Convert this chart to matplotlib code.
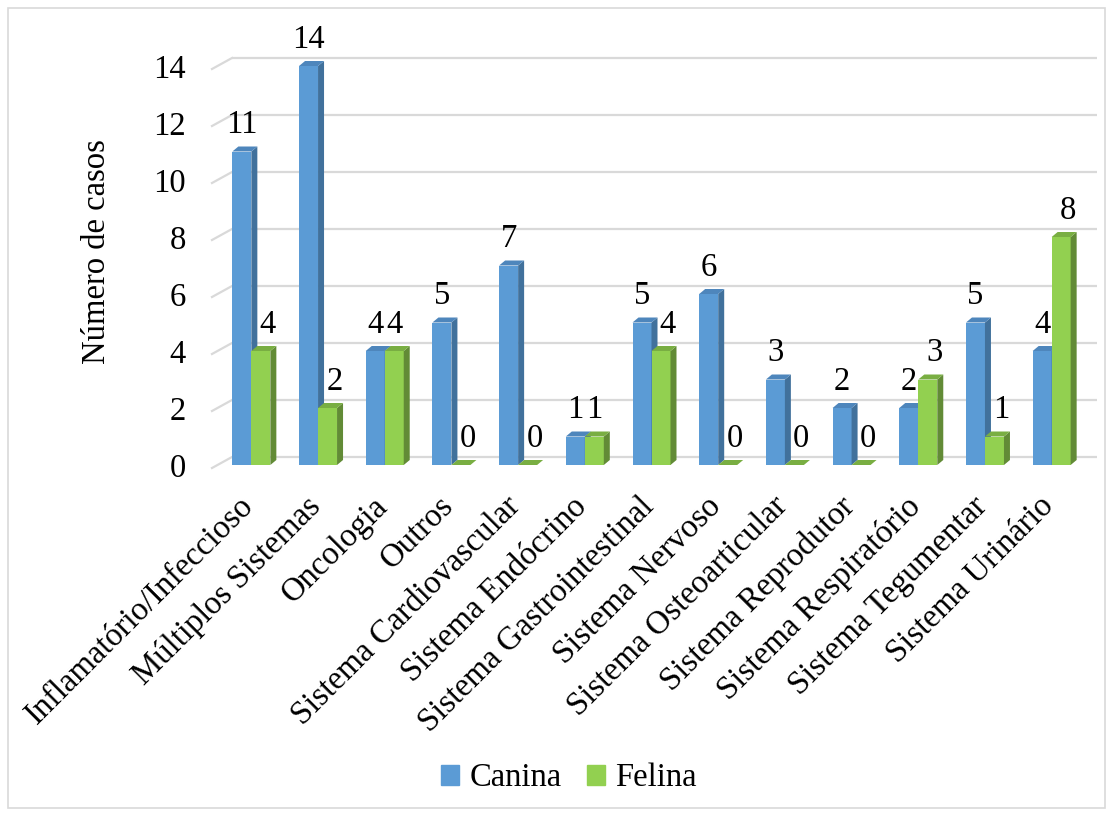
import matplotlib

matplotlib.use("Agg")
import matplotlib.pyplot as plt  # noqa: E402
from matplotlib.patches import Patch, Polygon, Rectangle  # noqa: E402
from matplotlib.transforms import ScaledTranslation  # noqa: E402

categories = [
    "Inflamatório/Infeccioso",
    "Múltiplos Sistemas",
    "Oncologia",
    "Outros",
    "Sistema Cardiovascular",
    "Sistema Endócrino",
    "Sistema Gastrointestinal",
    "Sistema Nervoso",
    "Sistema Osteoarticular",
    "Sistema Reprodutor",
    "Sistema Respiratório",
    "Sistema Tegumentar",
    "Sistema Urinário",
]
canina = [11, 14, 4, 5, 7, 1, 5, 6, 3, 2, 2, 5, 4]
felina = [4, 2, 4, 0, 0, 1, 4, 0, 0, 0, 3, 1, 8]
y_ticks = [0, 2, 4, 6, 8, 10, 12, 14]
series_names = ["Canina", "Felina"]

# face colours: front, side, top
BLUE = ("#5B9BD5", "#41719C", "#4E86BC")
GREEN = ("#92D050", "#628B36", "#79AE42")
GRID = "#D9D9D9"
FS = 23.5

plt.rcParams["font.family"] = ["Liberation Serif", "DejaVu Serif"]

W, H, DPI = 1113, 816, 100
fig = plt.figure(figsize=(W / DPI, H / DPI), dpi=DPI)

# bar plane of the pseudo-3D chart, in pixels
left_px, right_px, bottom_px, top_px = 218, 1085, 465, 37.5
ax = fig.add_axes([left_px / W, 1 - bottom_px / H,
                   (right_px - left_px) / W, (bottom_px - top_px) / H])
n = len(categories)
ax.set_xlim(-0.5, n - 0.5)
ax.set_ylim(0, 15)
sx = (right_px - left_px) / n          # px per category
sy = (bottom_px - top_px) / 15         # px per unit


def px_x(p):
    return p / sx


def px_y(p):
    return p / sy


# back-wall gridlines + slanted floor ticks
gx0, gx1 = -0.5 + px_x(14), n - 0.5 + px_x(12)
for t in y_ticks:
    yb = t + px_y(8)
    ax.plot([gx0, gx1], [yb, yb], color=GRID, lw=1.6, zorder=0, clip_on=False,
            solid_capstyle="butt")
    ax.plot([-0.5 - px_x(6), gx0], [t - px_y(3), yb], color=GRID, lw=1.6,
            zorder=0, clip_on=False)

bw = px_x(19)
ddx, ddy = px_x(6), px_y(5)


def bar3d(x0, h, cols, z):
    x1 = x0 + bw
    ax.bar(x0, h, width=bw, align="edge", color=cols[0], zorder=z, linewidth=0)
    side = [(x1, 0), (x1 + ddx, ddy), (x1 + ddx, h + ddy), (x1, h)]
    top = [(x0, h), (x1, h), (x1 + ddx, h + ddy), (x0 + ddx, h + ddy)]
    ax.add_patch(Polygon(side, closed=True, color=cols[1], lw=0, zorder=z))
    ax.add_patch(Polygon(top, closed=True, color=cols[2], lw=0, zorder=z))


for i, (c, f) in enumerate(zip(canina, felina)):
    bar3d(i - bw, c, BLUE, 2 + 2 * i)
    bar3d(i, f, GREEN, 3 + 2 * i)
    ax.annotate(str(c), (i - bw / 2, c), xytext=(0, 8), textcoords="offset points",
                ha="center", va="bottom", fontsize=FS, annotation_clip=False)
    off = 0 if c == f else 5
    ax.annotate(str(f), (i + bw / 2, f), xytext=(off, 8), textcoords="offset points",
                ha="center", va="bottom", fontsize=FS, annotation_clip=False)

ax.set_yticks(y_ticks)
ax.set_yticklabels([str(t) for t in y_ticks], fontsize=FS)
ax.set_xticks(range(n))
ax.set_xticklabels(categories, rotation=45, ha="right", rotation_mode="anchor",
                   fontsize=FS)
ax.tick_params(axis="y", length=0, pad=23)
ax.tick_params(axis="x", length=0, pad=10)
shift = ScaledTranslation(-0.13, -0.12, fig.dpi_scale_trans)
for lab in ax.get_xticklabels():
    lab.set_transform(lab.get_transform() + shift)
for s in ax.spines.values():
    s.set_visible(False)
ax.patch.set_visible(False)
ax.set_ylabel("Número de casos", fontsize=FS, labelpad=30)

handles = [Patch(color=BLUE[0]), Patch(color=GREEN[0])]
fig.legend(handles, series_names, loc="center", ncol=2, frameon=False,
           bbox_to_anchor=(569 / W, 1 - 778 / H), fontsize=FS,
           handlelength=0.55, handleheight=0.55, handletextpad=0.3,
           columnspacing=0.8)

fig.patches.append(Rectangle((8 / W, 8 / H), 1097 / W, 800 / H,
                             transform=fig.transFigure, fill=False,
                             edgecolor=GRID, lw=1.2))

fig.savefig("out.png", dpi=DPI)
